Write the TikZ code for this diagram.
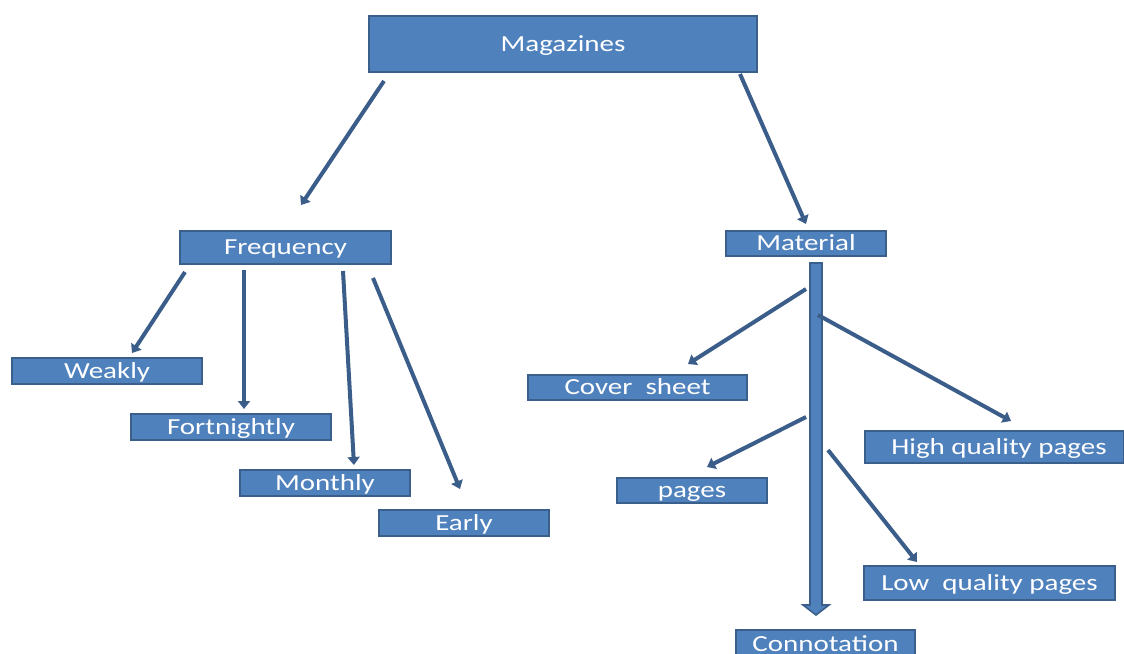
\documentclass[tikz,border=0pt]{standalone}
\usepackage{fontspec}
\setmainfont[FakeStretch=1.26]{Carlito}
\usetikzlibrary{arrows.meta}
\definecolor{boxfill}{HTML}{4F81BD}
\definecolor{boxline}{HTML}{3A5F8B}
\definecolor{arrcol}{HTML}{3B5D8A}
\tikzset{
  box/.style={draw=boxline, line width=1.5pt, fill=boxfill},
  lbl/.style={text=white, font=\fontsize{17.25}{20}\selectfont, inner sep=0pt, text height=11.1pt, text depth=0pt},
  conn/.style={draw=arrcol, line width=3pt, -{Triangle[length=6pt,width=9pt]}},
  plainconn/.style={draw=arrcol, line width=3pt}
}
\begin{document}
\begin{tikzpicture}[x=0.75pt,y=-0.75pt]
\useasboundingbox (0,0) rectangle (1124,653);
% boxes
\draw[box] (369,16) rectangle (757,72);
\node[lbl] (mag) at (563,44) {Magazines};
\draw[box] (180,231) rectangle (391,264);
\node[lbl] (freq) at (285.5,247.5) {Frequency};
\draw[box] (12,358) rectangle (202,384);
\node[lbl] (weak) at (107,371) {Weakly};
\draw[box] (131,414) rectangle (331,440);
\node[lbl] (fort) at (231,427) {Fortnightly};
\draw[box] (240,470) rectangle (410,496);
\node[lbl] (mon) at (325,483) {Monthly};
\draw[box] (379,510) rectangle (549,536);
\node[lbl] (early) at (464,523) {Early};
\draw[box] (726,231) rectangle (886,256);
\node[lbl] (mat) at (806,243.5) {Material};
\draw[box] (528,375) rectangle (747,400);
\node[lbl] (cover) at (637.5,387.5) {Cover\ \ sheet};
\draw[box] (865,431) rectangle (1124,463);
\node[lbl] (high) at (999,447) {High quality pages};
\draw[box] (617,478) rectangle (767,503);
\node[lbl] (pages) at (692,490.5) {pages};
\draw[box] (864,566) rectangle (1115,600);
\node[lbl] (low) at (989.5,583) {Low\ \ quality pages};
\draw[box] (736,630) rectangle (915,660);
\node[lbl] (conn) at (825.5,644) {Connotation};
% connector end points
\coordinate (a1) at (384,81);  \coordinate (a2) at (301,205);
\coordinate (b1) at (740,74);  \coordinate (b2) at (806,224);
\coordinate (c1) at (185,272); \coordinate (c2) at (132,353);
\coordinate (d1) at (244,270); \coordinate (d2) at (244,409);
\coordinate (e1) at (343,271); \coordinate (e2) at (354,465);
\coordinate (f1) at (373,278); \coordinate (f2) at (460,489);
\coordinate (g1) at (806,289); \coordinate (g2) at (688,364);
\coordinate (h1) at (818,315); \coordinate (h2) at (1011,421);
\coordinate (i1) at (806,417); \coordinate (i2) at (707,467);
\coordinate (j1) at (828,450); \coordinate (j2) at (917,562);
\draw[conn] (a1) -- (a2);
\draw[conn] (b1) -- (b2);
\draw[conn] (c1) -- (c2);
\draw[conn] (d1) -- (d2);
\draw[conn] (e1) -- (e2);
\draw[conn] (f1) -- (f2);
% block arrow
\draw[box, line width=1.2pt] (810,263) -- (822,263) -- (822,605) -- (829,605) -- (816,615) -- (803,605) -- (810,605) -- cycle;
\draw[conn] (g1) -- (g2);
\draw[conn] (h1) -- (h2);
\draw[conn] (i1) -- (i2);
\draw[conn] (j1) -- (j2);
\end{tikzpicture}
\end{document}
